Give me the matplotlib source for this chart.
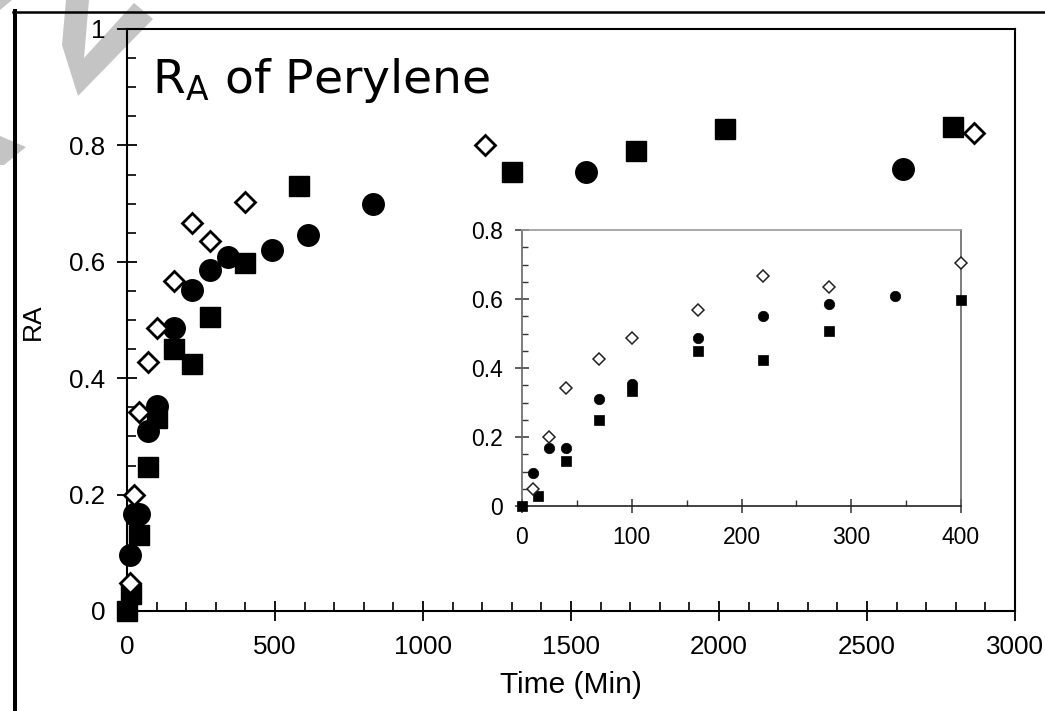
import matplotlib
matplotlib.use('Agg')
import matplotlib.pyplot as plt
from matplotlib.patches import Polygon
from matplotlib.lines import Line2D
from matplotlib.ticker import MultipleLocator

## Data: time (min) vs R_A, three runs
sq_time = [0, 15, 40, 70, 100, 160, 220, 280, 400, 580, 1300, 1720, 2020, 2790]
sq_ra = [0.0, 0.03, 0.13, 0.248, 0.332, 0.45, 0.424, 0.506, 0.598, 0.73, 0.754, 0.79, 0.829, 0.832]

ci_time = [10, 25, 40, 70, 100, 160, 220, 280, 340, 490, 610, 830, 1550, 2620]
ci_ra = [0.097, 0.167, 0.167, 0.31, 0.353, 0.486, 0.551, 0.586, 0.608, 0.621, 0.646, 0.70, 0.754, 0.759]

di_time = [10, 25, 40, 70, 100, 160, 220, 280, 400, 1210, 2860]
di_ra = [0.048, 0.2, 0.342, 0.427, 0.487, 0.567, 0.667, 0.636, 0.703, 0.80, 0.822]

## Tick labels
main_xticks = [0, 500, 1000, 1500, 2000, 2500, 3000]
main_yticks = [0, 0.2, 0.4, 0.6, 0.8, 1.0]
main_ylabels = ['0', '0.2', '0.4', '0.6', '0.8', '1']
inset_xticks = [0, 100, 200, 300, 400]
inset_yticks = [0, 0.2, 0.4, 0.6, 0.8]
inset_ylabels = ['0', '0.2', '0.4', '0.6', '0.8']
inset_tmax = 400

plt.rcParams['font.family'] = ['Liberation Sans', 'DejaVu Sans']
plt.rcParams['mathtext.default'] = 'regular'

W, H = 1045, 711
fig = plt.figure(figsize=(W / 100, H / 100), dpi=100)


def px(x, y):
    ## pixel position (from top left) -> figure fraction
    return (x / W, 1 - y / H)


## grey watermark pieces in the top left corner
wm = [
    [(66, 0), (89, 0), (84, 58), (134, 3), (153, 19), (78, 96), (62, 45)],
    [(0, 136), (26, 147), (4, 165), (0, 165)],
    [(0, 0), (12, 0), (0, 10)],
]
for pts in wm:
    fig.patches.append(Polygon([px(*p) for p in pts], closed=True, transform=fig.transFigure,
                               facecolor='#c4c4c4', edgecolor='none', zorder=-5))

## outer frame (left + top)
fig.add_artist(Line2D([px(15, 0)[0]] * 2, [px(0, 11)[1], 0], color='black', lw=2.9,
                      transform=fig.transFigure))
fig.add_artist(Line2D([px(13, 0)[0], 1], [px(0, 12)[1]] * 2, color='black', lw=1.8,
                      transform=fig.transFigure))

############## MAIN AXES ##############
ax = fig.add_axes([127 / W, 1 - 611 / H, 888 / W, 582 / H])
ax.set_facecolor('none')
ax.plot(sq_time, sq_ra, 's', ms=15, mfc='black', mec='black', mew=1, clip_on=False, zorder=3)
ax.plot(ci_time, ci_ra, 'o', ms=15.5, mfc='black', mec='black', mew=1, clip_on=False, zorder=3)
ax.plot(di_time, di_ra, 'D', ms=10.5, mfc='white', mec='black', mew=2, clip_on=False, zorder=4)

ax.set_xlim(0, 3000)
ax.set_ylim(0, 1)
ax.set_xticks(main_xticks)
ax.set_xticklabels([str(t) for t in main_xticks])
ax.set_yticks(main_yticks)
ax.set_yticklabels(main_ylabels)
ax.xaxis.set_minor_locator(MultipleLocator(100))
ax.yaxis.set_minor_locator(MultipleLocator(0.05))
ax.tick_params(which='major', direction='inout', length=14.5, width=1.3, labelsize=18.7)
ax.tick_params(axis='x', which='major', pad=10)
ax.tick_params(axis='y', which='major', pad=8.5)
ax.tick_params(which='minor', direction='in', length=6.5, width=1.2)
for s in ax.spines.values():
    s.set_linewidth(1.5)

ax.set_xlabel('Time (Min)', fontsize=21.5, labelpad=9)
fig.text(*px(33, 322), 'RA', rotation=90, fontsize=19, ha='center', va='center')

ax.text((152 - 127) / 888, (611 - 93) / 582, r'R$_{A}$ of Perylene', transform=ax.transAxes,
        fontsize=34, family='DejaVu Sans', ha='left', va='baseline')

############## INSET ##############
ax2 = fig.add_axes([522 / W, 1 - 506 / H, 439 / W, 276 / H])
ax2.set_facecolor('white')
sq_in = [(t, r) for t, r in zip(sq_time, sq_ra) if t <= inset_tmax]
ci_in = [(t, r) for t, r in zip(ci_time, ci_ra) if t <= inset_tmax]
di_in = [(t, r) for t, r in zip(di_time, di_ra) if t <= inset_tmax]
ax2.plot(*zip(*sq_in), 's', ms=7.5, mfc='black', mec='black', mew=0.5, clip_on=False, zorder=3)
ax2.plot(*zip(*ci_in), 'o', ms=7.5, mfc='black', mec='black', mew=0.5, clip_on=False, zorder=3)
ax2.plot(*zip(*di_in), 'D', ms=5.8, mfc='white', mec='#222222', mew=1.1, clip_on=False, zorder=4)

ax2.set_xlim(0, 400)
ax2.set_ylim(0, 0.8)
ax2.set_xticks(inset_xticks)
ax2.set_xticklabels([str(t) for t in inset_xticks])
ax2.set_yticks(inset_yticks)
ax2.set_yticklabels(inset_ylabels)
ax2.xaxis.set_minor_locator(MultipleLocator(50))
ax2.yaxis.set_minor_locator(MultipleLocator(0.05))
ax2.tick_params(which='major', direction='inout', length=10.5, width=1.1, labelsize=16.5, color='#333333')
ax2.tick_params(axis='x', which='major', pad=9.5)
ax2.tick_params(axis='y', which='major', pad=8.4)
ax2.tick_params(which='minor', direction='in', length=4.5, width=1.0, color='#333333')
ax2.spines['left'].set_color('#666666')
ax2.spines['bottom'].set_color('#222222')
ax2.spines['top'].set_color('#999999')
ax2.spines['right'].set_color('#666666')
for s in ax2.spines.values():
    s.set_linewidth(1.2)

fig.savefig('out.png', dpi=100)
